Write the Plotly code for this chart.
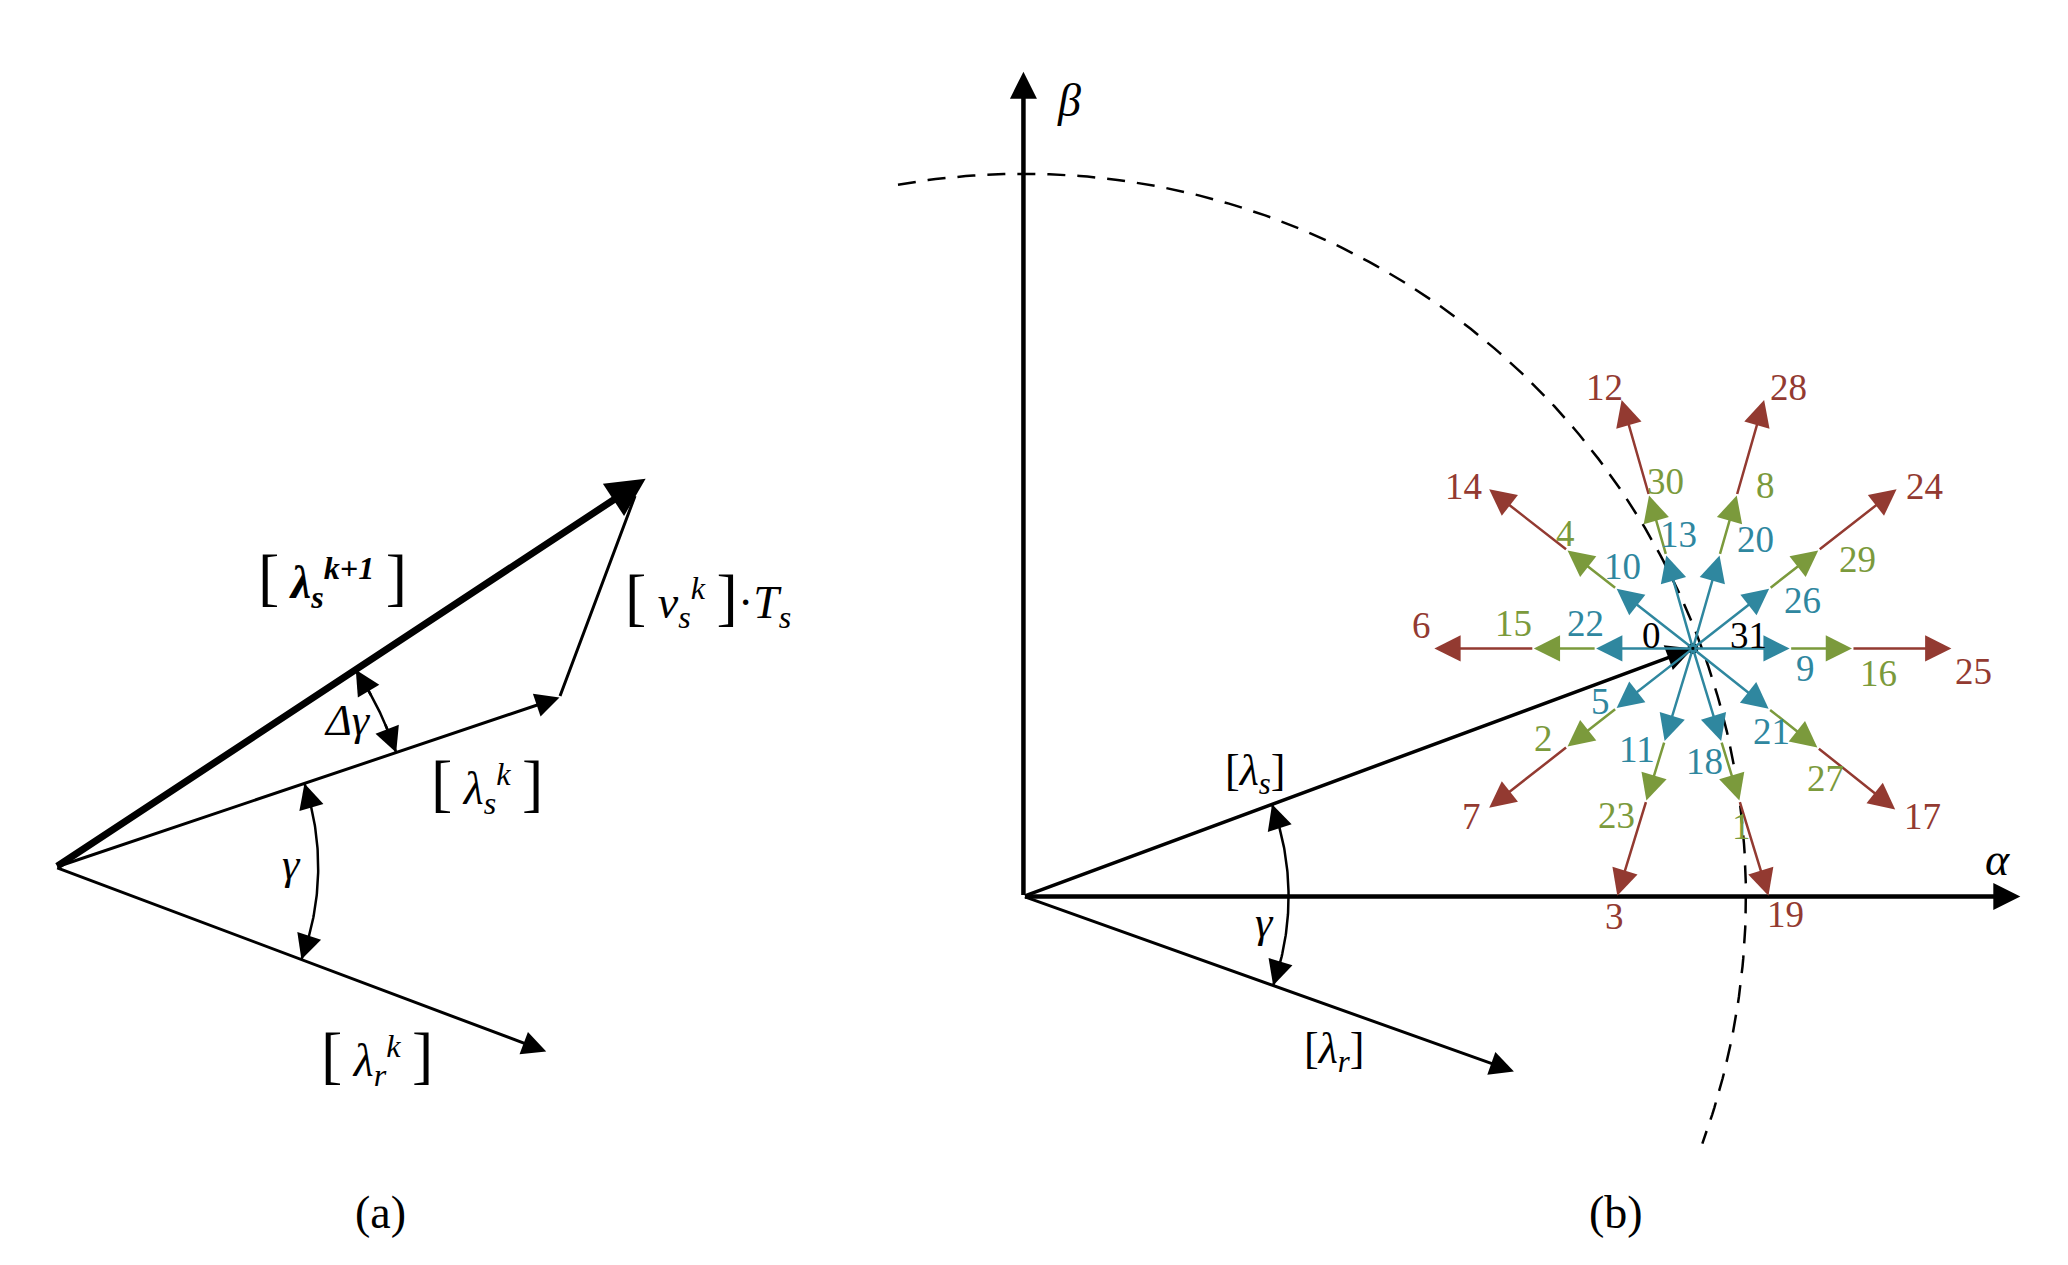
import numpy as np
import plotly.graph_objects as go

# geometry in reference-image pixels (1560 x 954 grid, y down)
W, H = 1560, 954
X0, Y0 = 12, 10  # view offset

# panel (a) vectors: origin and tips
a_origin = (48, 658)
a_tips = {"ls_k1": (493, 365), "ls_k": (428, 530), "lr_k": (418, 797)}

# panel (b)
b_origin = (778, 680)
b_beta_tip = (778, 58)
b_alpha_tip = (1530, 680)
star_center = (1283, 493)
lr_b_tip = (1148, 812)
circle_radius = 545

# voltage vector star: directions (deg) and ring lengths
star_angles = [0, 38, 74, 106, 142, 180, 218, 253, 287, 321.5]
ring_lengths = [73, 120, 195]
ring_colors = ["#2f879f", "#7b9a3c", "#933a31"]
blue_labels = ["9", "26", "20", "13", "10", "22", "5", "11", "18", "21"]
green_labels = ["16", "29", "8", "30", "4", "15", "2", "23", "1", "27"]
red_labels = ["25", "24", "28", "12", "14", "6", "7", "3", "19", "17"]
blue_pos = [(1368, 508), (1366, 457), (1330, 411), (1272, 407), (1230, 431),
            (1202, 474), (1213, 533), (1241, 569), (1292, 578), (1342, 556)]
green_pos = [(1423, 512), (1407, 426), (1338, 370), (1262, 367), (1187, 406),
             (1148, 474), (1170, 561), (1225, 619), (1320, 627), (1383, 591)]
red_pos = [(1495, 510), (1458, 371), (1355, 296), (1216, 296), (1110, 371),
           (1078, 476), (1116, 620), (1224, 695), (1353, 694), (1456, 620)]

FONT = "Liberation Serif"
fig = go.Figure()
ann = []


def arrow(p0, p1, width=3, head=2, size=1.2, color="black"):
    ann.append(dict(x=p1[0], y=p1[1], ax=p0[0], ay=p0[1], xref="x", yref="y",
                    axref="x", ayref="y", showarrow=True, arrowhead=head,
                    arrowsize=size, arrowwidth=width, arrowcolor=color,
                    standoff=0, text=""))


def label(p, text, size=38, color="black"):
    ann.append(dict(x=p[0], y=p[1], xref="x", yref="y", text=text,
                    showarrow=False, font=dict(family=FONT, size=size, color=color)))


def pt(c, r, deg):
    t = np.radians(deg)
    return c[0] + r * np.cos(t), c[1] - r * np.sin(t)


def angle_of(c, p):
    return np.degrees(np.arctan2(c[1] - p[1], p[0] - c[0]))


def double_arc(c, r, a0, a1):
    t = np.linspace(a0, a1, 80)
    xs, ys = pt(c, r, t)
    fig.add_trace(go.Scatter(x=xs, y=ys, mode="lines", line=dict(color="black", width=2.5),
                             showlegend=False, hoverinfo="skip"))
    step = 5 if a1 > a0 else -5
    arrow(pt(c, r, a0 + step), pt(c, r, a0), width=2.5, size=2)
    arrow(pt(c, r, a1 - step), pt(c, r, a1), width=2.5, size=2)


def br(s, size=64):
    return f"<span style='font-size:{size}px'>[</span>{s}<span style='font-size:{size}px'>]</span>"


# ---- panel (a)
arrow(a_origin, a_tips["ls_k1"], width=7, head=2, size=1.1)
arrow(a_origin, a_tips["ls_k"], width=3, head=2, size=1.6)
arrow(a_origin, a_tips["lr_k"], width=3, head=2, size=1.6)
arrow(a_tips["ls_k"], (485, 378), width=3, head=0)
double_arc(a_origin, 198, angle_of(a_origin, a_tips["ls_k"]), angle_of(a_origin, a_tips["lr_k"]))
double_arc(a_origin, 271, angle_of(a_origin, a_tips["ls_k1"]), angle_of(a_origin, a_tips["ls_k"]))

label((257, 440), br(" <b><i>λ<sub>s</sub><sup>k+1</sup></i></b> "), 46)
label((540, 455), br(" <i>v<sub>s</sub><sup>k</sup></i> ") + "·<i>T<sub>s</sub></i>", 46)
label((373, 595), br(" <i>λ<sub>s</sub><sup>k</sup></i> "), 46)
label((290, 800), br(" <i>λ<sub>r</sub><sup>k</sup></i> "), 46)
label((226, 656), "<i>γ</i>", 44)
label((268, 547), "<i>Δγ</i>", 44)
label((293, 918), "(a)", 46)

# ---- panel (b)
t = np.linspace(100, -20, 200)
cx, cy = pt(b_origin, circle_radius, t)
fig.add_trace(go.Scatter(x=cx, y=cy, mode="lines",
                         line=dict(color="black", width=2.5, dash="18px,12px"),
                         showlegend=False, hoverinfo="skip"))
arrow(b_origin, b_beta_tip, width=4.5, head=2, size=1.2)
arrow(b_origin, b_alpha_tip, width=4.5, head=2, size=1.2)
arrow(b_origin, star_center, width=3.5, head=2, size=1.5)
arrow(b_origin, lr_b_tip, width=3, head=2, size=1.6)
double_arc(b_origin, 200, angle_of(b_origin, star_center), angle_of(b_origin, lr_b_tip))

for i, ang in enumerate(star_angles):
    prev = 0
    for L, col in zip(ring_lengths, ring_colors):
        arrow(pt(star_center, prev, ang), pt(star_center, L, ang), width=2.5, head=2, size=2.1, color=col)
        prev = L
for labs, poss, col in ((blue_labels, blue_pos, ring_colors[0]),
                        (green_labels, green_pos, ring_colors[1]),
                        (red_labels, red_pos, ring_colors[2])):
    for s, p in zip(labs, poss):
        label(p, s, 37, col)

fig.add_trace(go.Scatter(x=[star_center[0]], y=[star_center[1]], mode="markers",
                         marker=dict(color="black", size=11), showlegend=False, hoverinfo="skip"))
label((1252, 483), "0", 37)
label((1325, 483), "31", 37)
label((812, 80), "<i>β</i>", 46)
label((1513, 652), "<i>α</i>", 46)
label((953, 587), "[<i>λ<sub>s</sub></i>]", 44)
label((1012, 797), "[<i>λ<sub>r</sub></i>]", 44)
label((960, 700), "<i>γ</i>", 44)
label((1225, 918), "(b)", 46)

fig.update_layout(width=2068, height=1265, margin=dict(l=0, r=0, t=0, b=0),
                  plot_bgcolor="white", paper_bgcolor="white", annotations=ann,
                  xaxis=dict(range=[X0, X0 + W], visible=False),
                  yaxis=dict(range=[Y0 + H, Y0], visible=False))
fig.write_html("out.html")
